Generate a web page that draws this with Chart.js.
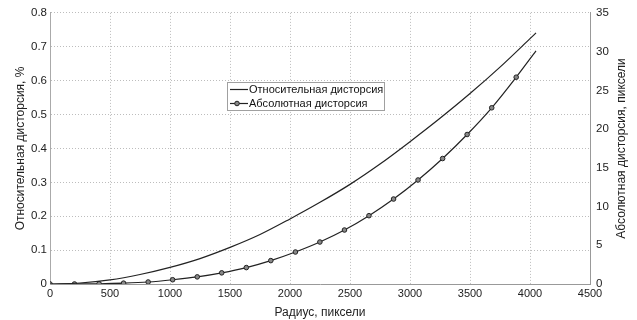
<!DOCTYPE html>
<html>
<head>
<meta charset="utf-8">
<script src="https://cdn.jsdelivr.net/npm/chart.js@4/dist/chart.umd.min.js"></script>
<style>
  html, body { margin: 0; padding: 0; background: #fff; }
  #wrap { width: 637px; height: 320px; }
</style>
</head>
<body>
<div id="wrap"><canvas id="myChart"></canvas></div>
<script>
// относительная дисторсия, %
const radius = [0, 250, 500, 750, 1000, 1250, 1500, 1750, 2000, 2250, 2500, 2750, 3000, 3250, 3500, 3750, 4000, 4050];
const relDist = [0, 0.003, 0.012, 0.028, 0.049, 0.075, 0.108, 0.146, 0.192, 0.241, 0.294, 0.354, 0.420, 0.489, 0.562, 0.640, 0.724, 0.741];

// абсолютная дисторсия, пиксели
const radiusAbs = [0, 204, 409, 613, 818, 1022, 1227, 1431, 1636, 1840, 2045, 2249, 2454, 2658, 2863, 3067, 3272, 3476, 3681, 3885, 4050];
const absDist = [0, 0.004, 0.03, 0.11, 0.26, 0.55, 0.92, 1.44, 2.12, 3.02, 4.13, 5.42, 6.97, 8.82, 10.97, 13.43, 16.2, 19.3, 22.75, 26.7, 30.1];

const xTicks = [0, 4500, 500];
const yTicks = [0, 0.8, 0.1];
const y2Ticks = [0, 35, 5];

const titleX = "Радиус, пиксели";
const titleY = "Относительная дисторсия, %";
const titleY2 = "Абсолютная дисторсия, пиксели";

const font = "'Liberation Sans', Arial, sans-serif";
const gridColor = "#bdbdbd";
const textColor = "#222";

const extras = {
    id: "extras",
    afterDraw(chart) {
        const ctx = chart.ctx;
        const area = chart.chartArea;
        ctx.save();

        // заголовок правой оси, снизу вверх
        ctx.font = "12px " + font;
        ctx.fillStyle = textColor;
        ctx.textAlign = "center";
        ctx.textBaseline = "middle";
        ctx.translate(622, (area.top + area.bottom) / 2);
        ctx.rotate(-Math.PI / 2);
        ctx.fillText(titleY2, 0, 0);
        ctx.setTransform(1, 0, 0, 1, 0, 0);

        // легенда
        const x0 = 227, y0 = 82, w = 157, h = 28;
        ctx.fillStyle = "#fff";
        ctx.fillRect(x0, y0, w, h);
        ctx.strokeStyle = "#a0a0a0";
        ctx.lineWidth = 1;
        ctx.strokeRect(x0 + 0.5, y0 + 0.5, w, h);
        ctx.font = "11px " + font;
        ctx.textAlign = "left";
        chart.data.datasets.forEach(function (ds, i) {
            const yy = y0 + 7.5 + i * 14;
            ctx.strokeStyle = "#222";
            ctx.lineWidth = 1.2;
            ctx.beginPath();
            ctx.moveTo(x0 + 3, yy);
            ctx.lineTo(x0 + 21, yy);
            ctx.stroke();
            if (i === 1) {
                ctx.lineWidth = 1;
                ctx.beginPath();
                ctx.arc(x0 + 10, yy, 2.3, 0, Math.PI * 2);
                ctx.fillStyle = "#888";
                ctx.fill();
                ctx.stroke();
            }
            ctx.fillStyle = "#111";
            ctx.fillText(ds.label, x0 + 22, yy + 0.5);
        });
        ctx.restore();
    }
};

new Chart("myChart", {
    type: "line",
    data: {
        datasets: [{
            label: "Относительная дисторсия",
            data: radius.map((r, i) => ({ x: r, y: relDist[i] })),
            borderColor: "#222",
            borderWidth: 1.2,
            pointRadius: 0,
            cubicInterpolationMode: "monotone",
            yAxisID: "y"
        }, {
            label: "Абсолютная дисторсия",
            data: radiusAbs.map((r, i) => ({ x: r, y: absDist[i] })),
            borderColor: "#222",
            borderWidth: 1.2,
            pointRadius: ctx => ctx.dataIndex === radiusAbs.length - 1 ? 0 : 2.3,
            pointBackgroundColor: "#888",
            pointBorderColor: "#222",
            pointBorderWidth: 1,
            cubicInterpolationMode: "monotone",
            yAxisID: "y2"
        }]
    },
    options: {
        responsive: true,
        maintainAspectRatio: false,
        animation: false,
        layout: { padding: { top: 5, left: 0, right: 0, bottom: 0 } },
        plugins: {
            legend: { display: false },
            tooltip: { enabled: false }
        },
        scales: {
            x: {
                type: "linear",
                min: xTicks[0], max: xTicks[1],
                ticks: {
                    stepSize: xTicks[2], color: textColor, font: { family: font, size: 11 }, padding: 3, maxRotation: 0,
                    callback: v => String(v)
                },
                grid: { color: gridColor, drawTicks: false, lineWidth: 1 },
                border: { color: "#999", dash: [1, 2] },
                title: { display: true, text: titleX, color: textColor, font: { family: font, size: 12 }, padding: { top: 2, bottom: 0 } },
                afterFit(scale) { scale.height = 36; }
            },
            y: {
                type: "linear",
                position: "left",
                min: yTicks[0], max: yTicks[1],
                ticks: { stepSize: yTicks[2], color: textColor, font: { family: font, size: 11.5 }, padding: 3, callback: v => String(+v.toFixed(1)) },
                grid: { color: gridColor, drawTicks: false, lineWidth: 1 },
                border: { color: "#aaa", dash: [1, 2] },
                title: { display: true, text: titleY, color: textColor, font: { family: font, size: 12 }, padding: { top: 13, bottom: 0 } },
                afterFit(scale) { scale.width = 50; }
            },
            y2: {
                type: "linear",
                position: "right",
                min: y2Ticks[0], max: y2Ticks[1],
                ticks: { stepSize: y2Ticks[2], color: textColor, font: { family: font, size: 11.5 }, padding: 6 },
                grid: { drawOnChartArea: false, drawTicks: false },
                border: { color: "#999" },
                afterFit(scale) { scale.width = 47; }
            }
        }
    },
    plugins: [extras]
});
</script>
</body>
</html>
